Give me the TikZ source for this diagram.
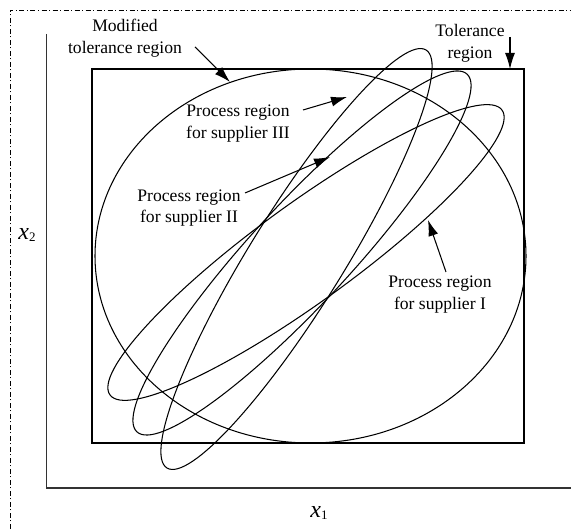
\documentclass[tikz,border=0pt]{standalone}
\usepackage{fontspec}
\setmainfont{Liberation Serif}
\usetikzlibrary{arrows.meta}
\begin{document}
\begin{tikzpicture}[x=1pt,y=1pt,
  lbl/.style={align=center,inner sep=0pt,font=\fontsize{17.6}{21.6}\selectfont},
  axlbl/.style={inner sep=0pt,font=\fontsize{24}{24}\selectfont\itshape},
  curve/.style={line width=1.05pt},
  pointer/.style={line width=1.05pt,-{Latex[length=16pt,width=10pt]}},
  frameline/.style={line width=0.8pt,dash pattern=on 5pt off 2.5pt on 1pt off 2.5pt}]
\useasboundingbox (0,0) rectangle (571,529);
% dash-dot outer frame (top and left)
\draw[frameline] (10.5,0) -- (10.5,519) -- (571,519);
% axes
\draw[line width=1.4pt,black!80] (46.5,495) -- (46.5,41) -- (571,41);
\node[axlbl] (xtwo) at (27,294) {x\raisebox{-2pt}{\fontsize{13}{13}\selectfont\upshape 2}};
\node[axlbl] (xone) at (319,16) {x\raisebox{-2pt}{\fontsize{13}{13}\selectfont\upshape 1}};
% tolerance region
\draw[line width=1.1pt] (92,86) rectangle (524,460);
% modified tolerance region
\draw[curve] (310.5,273) ellipse [x radius=215.5, y radius=187];
% process regions of the three suppliers
\draw[curve, rotate around={36:(306,276.5)}] (306,276.5) ellipse [x radius=242.3, y radius=49];
\draw[curve, rotate around={47.3:(302,276)}] (302,276) ellipse [x radius=243.4, y radius=49.7];
\draw[curve, rotate around={58.2:(296.5,270)}] (296.5,270) ellipse [x radius=245.9, y radius=47];
% labels
\node[lbl] (modl) at (125,490.5) {Modified\\tolerance region};
\node[lbl] (toll) at (470,485.6) {Tolerance\\region};
\node[lbl] (s3l) at (238,405.5) {Process region\\for supplier III};
\node[lbl] (s2l) at (189,321) {Process region\\for supplier II};
\node[lbl] (s1l) at (440,234.5) {Process region\\for supplier I};
% pointer ends
\coordinate (modA) at (195,482); \coordinate (modB) at (230,447);
\coordinate (tolA) at (510,492); \coordinate (tolB) at (510,460);
\coordinate (s3A) at (303,419);  \coordinate (s3B) at (347,432);
\coordinate (s2A) at (245,336);  \coordinate (s2B) at (330,372);
\coordinate (s1A) at (446,257);  \coordinate (s1B) at (428,309);
\draw[pointer] (modA) -- (modB);
\draw[pointer] (tolA) -- (tolB);
\draw[pointer] (s3A) -- (s3B);
\draw[pointer] (s2A) -- (s2B);
\draw[pointer] (s1A) -- (s1B);
\end{tikzpicture}
\end{document}
